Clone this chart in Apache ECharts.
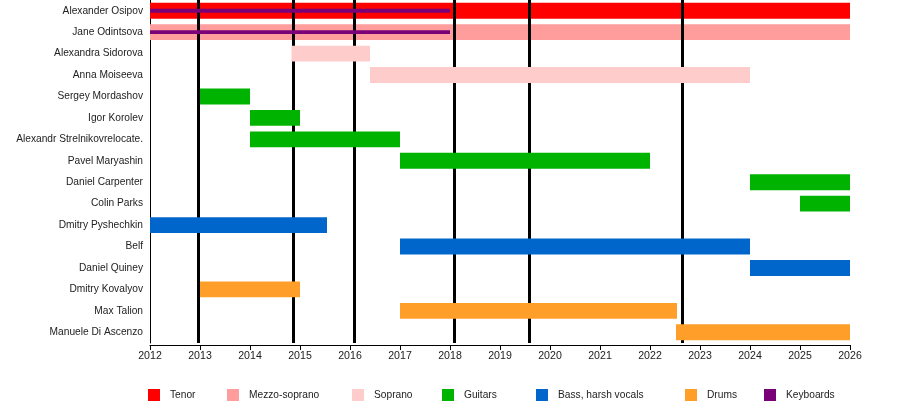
<!DOCTYPE html>
<html>
<head>
<meta charset="utf-8">
<script src="https://cdn.jsdelivr.net/npm/echarts@6/dist/echarts.min.js"></script>
<style>html,body{margin:0;padding:0;background:#fff}#c{width:900px;height:405px}</style>
</head>
<body>
<div id="c"></div>
<script>
const members = ["Alexander Osipov","Jane Odintsova","Alexandra Sidorova","Anna Moiseeva","Sergey Mordashov","Igor Korolev","Alexandr Strelnikovrelocate.","Pavel Maryashin","Daniel Carpenter","Colin Parks","Dmitry Pyshechkin","Belf","Daniel Quiney","Dmitry Kovalyov","Max Talion","Manuele Di Ascenzo"];
const yearTicks = [2012,2013,2014,2015,2016,2017,2018,2019,2020,2021,2022,2023,2024,2025,2026];
// [row, start, end]
const tenor = [[0, 2012, 2026]];
const mezzo = [[1, 2012, 2026]];
const soprano = [[2, 2014.83, 2016.4], [3, 2016.4, 2024]];
const guitars = [[4, 2013, 2014], [5, 2014, 2015], [6, 2014, 2017], [7, 2017, 2022], [8, 2024, 2026], [9, 2025, 2026]];
const bass = [[10, 2012, 2015.54], [11, 2017, 2024], [12, 2024, 2026]];
const drums = [[13, 2013, 2015], [14, 2017, 2022.54], [15, 2022.52, 2026]];
const keyboards = [[0, 2012, 2018], [1, 2012, 2018]];
const releases = [2012.97, 2014.87, 2016.08, 2018.09, 2019.59, 2022.65];

const FONT = 'Liberation Sans, Arial, sans-serif';
const roles = [
  {name: 'Tenor', data: tenor, color: '#FF0000', h: 0.74, legendX: 148},
  {name: 'Mezzo-soprano', data: mezzo, color: '#FF9C9C', h: 0.74, legendX: 227},
  {name: 'Soprano', data: soprano, color: '#FFCCCC', h: 0.74, legendX: 352},
  {name: 'Guitars', data: guitars, color: '#00B300', h: 0.74, legendX: 442},
  {name: 'Bass, harsh vocals', data: bass, color: '#0066CC', h: 0.74, legendX: 536},
  {name: 'Drums', data: drums, color: '#FF9F2A', h: 0.74, legendX: 685},
  {name: 'Keyboards', data: keyboards, color: '#7A0077', h: 0.18, legendX: 764}
];

function makeRender(ratio) {
  return function (params, api) {
    const row = api.value(0);
    const s = api.coord([api.value(1), row]);
    const e = api.coord([api.value(2), row]);
    const band = api.size([0, 1])[1];
    const h = band * ratio;
    return {
      type: 'rect',
      shape: {x: s[0], y: s[1] - h / 2, width: e[0] - s[0], height: h},
      style: {fill: api.visual('color')}
    };
  };
}

const series = roles.map((r, i) => ({
  name: r.name,
  type: 'custom',
  renderItem: makeRender(r.h),
  itemStyle: {color: r.color},
  encode: {x: [1, 2], y: 0},
  data: r.data,
  z: 3 + i,
  silent: true
}));

series.push({
  type: 'line',
  data: [],
  silent: true,
  z: 1,
  markLine: {
    silent: true,
    symbol: ['none', 'none'],
    label: {show: false},
    lineStyle: {color: '#000', width: 3, type: 'solid'},
    data: releases.map(v => ({xAxis: v}))
  }
});

const legends = roles.map(r => ({
  data: [{name: r.name, icon: 'rect'}],
  left: r.legendX,
  top: 389,
  padding: 0,
  itemWidth: 12,
  itemHeight: 12,
  selectedMode: false,
  textStyle: {fontFamily: FONT, fontSize: 10.2, color: '#222', padding: [0, 0, 0, 5]}
}));

const chart = echarts.init(document.getElementById('c'));
chart.setOption({
  animation: false,
  backgroundColor: '#fff',
  legend: legends,
  grid: {left: 150, right: 50, top: -2, bottom: 62},
  xAxis: {
    type: 'value',
    min: yearTicks[0],
    max: yearTicks[yearTicks.length - 1],
    interval: 1,
    offset: 2,
    splitLine: {show: false},
    axisLine: {show: true, lineStyle: {color: '#000', width: 1}},
    axisTick: {show: true, length: 5, lineStyle: {color: '#000'}},
    axisLabel: {fontFamily: FONT, fontSize: 10.6, color: '#222', margin: 6,
      formatter: v => String(v)}
  },
  yAxis: {
    type: 'category',
    inverse: true,
    data: members,
    axisLine: {show: true, lineStyle: {color: '#000', width: 1}},
    axisTick: {show: false},
    splitLine: {show: false},
    axisLabel: {fontFamily: FONT, fontSize: 10.2, color: '#222', margin: 7}
  },
  series: series
});
</script>
</body>
</html>
